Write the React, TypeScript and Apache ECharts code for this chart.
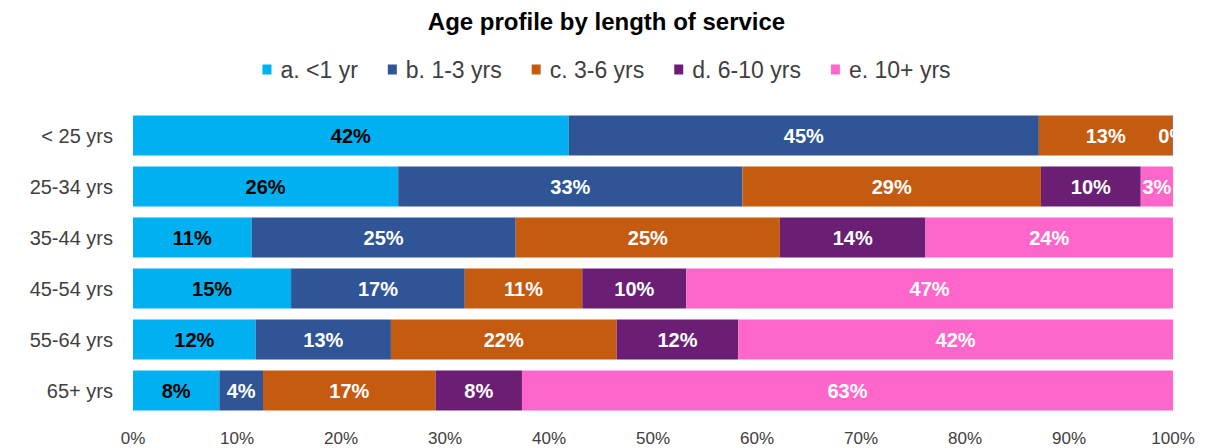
import React, { useEffect, useRef } from "react";
import * as echarts from "echarts";

const categories = ["< 25 yrs", "25-34 yrs", "35-44 yrs", "45-54 yrs", "55-64 yrs", "65+ yrs"];
const seriesNames = ["a. <1 yr", "b. 1-3 yrs", "c. 3-6 yrs", "d. 6-10 yrs", "e. 10+ yrs"];
const lt1 = [41.9, 25.5, 11.4, 15.2, 11.8, 8.3];
const y1to3 = [45.2, 33.1, 25.4, 16.7, 13.0, 4.2];
const y3to6 = [12.85, 28.7, 25.4, 11.3, 21.7, 16.6];
const y6to10 = [0.05, 9.6, 14.0, 10.0, 11.7, 8.3];
const y10plus = [0.0, 3.1, 23.8, 46.8, 41.8, 62.6];
const colors = ["#00B0F0", "#2F5597", "#C55A11", "#6A1E74", "#FF66CC"];
const labelColors = ["#000000", "#ffffff", "#ffffff", "#ffffff", "#ffffff"];
const xTicks = [0, 10, 20, 30, 40, 50, 60, 70, 80, 90, 100];

export default function App() {
  const ref = useRef<HTMLDivElement>(null);
  useEffect(() => {
    const chart = echarts.init(ref.current!, null, { renderer: "svg" });
    const all = [lt1, y1to3, y3to6, y6to10, y10plus];
    chart.setOption({
      animation: false,
      title: {
        text: "Age profile by length of service",
        left: "center",
        top: 4,
        textStyle: { fontFamily: "Liberation Sans, Arial", fontSize: 24, fontWeight: "bold", color: "#000" },
      },
      legend: {
        top: 53,
        left: "center",
        itemWidth: 9,
        itemHeight: 10,
        itemGap: 30,
        icon: "rect",
        textStyle: { fontFamily: "Liberation Sans, Arial", fontSize: 23, color: "#404040", padding: [0, 0, 0, 4] },
        data: seriesNames,
      },
      grid: { left: 133, right: 40, top: 110, bottom: 32, containLabel: false },
      xAxis: {
        type: "value",
        min: 0,
        max: 100,
        interval: 10,
        axisLabel: {
          formatter: (v: number) => (xTicks.includes(v) ? v + "%" : ""),
          fontFamily: "Liberation Sans, Arial",
          fontSize: 17,
          color: "#404040",
          margin: 14,
        },
        splitLine: { show: false },
        axisLine: { show: false },
        axisTick: { show: false },
      },
      yAxis: {
        type: "category",
        inverse: true,
        data: categories,
        axisLabel: { fontFamily: "Liberation Sans, Arial", fontSize: 20, color: "#404040", margin: 20 },
        axisLine: { show: false },
        axisTick: { show: false },
      },
      series: seriesNames.map((name, i) => ({
        name,
        type: "bar",
        stack: "total",
        barCategoryGap: "22%",
        data: all[i],
        itemStyle: { color: colors[i] },
        label: {
          show: true,
          position: "inside",
          formatter: (p: any) => (p.value === 0 ? "" : Math.round(p.value) + "%"),
          fontFamily: "Liberation Sans, Arial",
          fontWeight: "bold",
          fontSize: 20,
          color: labelColors[i],
        },
      })),
    });
    return () => chart.dispose();
  }, []);
  return <div ref={ref} style={{ width: 1213, height: 448, margin: "-8px 0 0 -8px" }} />;
}
